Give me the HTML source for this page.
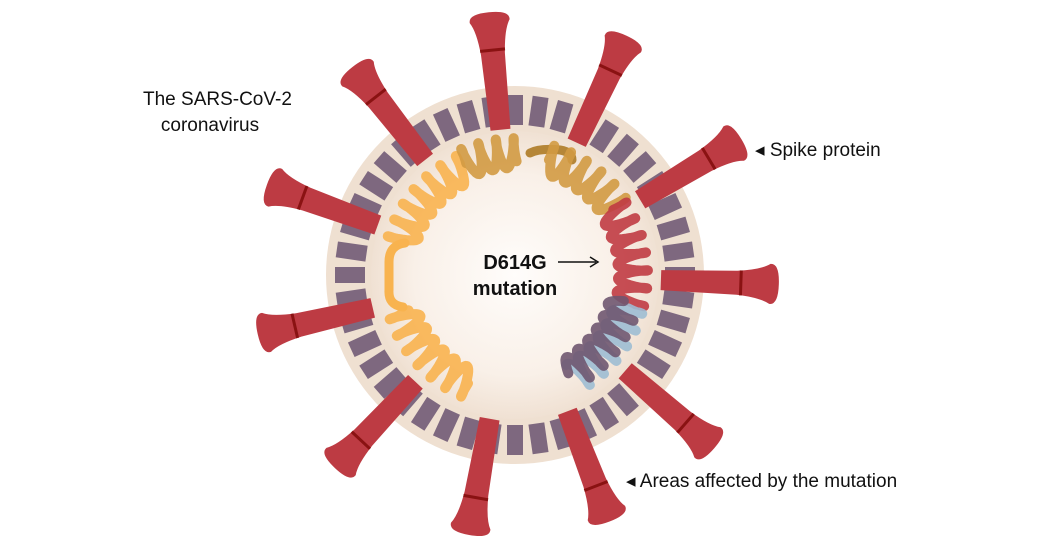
<!DOCTYPE html>
<html><head><meta charset="utf-8"><style>
body{margin:0;background:#fff;width:1050px;height:549px;overflow:hidden;position:relative;font-family:"Liberation Sans",Arial,sans-serif}
.t{position:absolute;color:#111;font-size:19px;white-space:nowrap}
</style></head><body>
<svg id="s" width="1050" height="549" style="position:absolute;left:0;top:0">
<defs><radialGradient id="g" cx="0.5" cy="0.5" r="0.5"><stop offset="0" stop-color="#fffdfb"/><stop offset="0.7" stop-color="#f9f0e8"/><stop offset="1" stop-color="#f0e1d3"/></radialGradient></defs>
<circle cx="515" cy="275" r="189" fill="#efe0d1"/>
<g id="rects"></g>
<circle cx="515" cy="275" r="144" fill="url(#g)"/>
<g id="spikes"></g>
<g id="rna" fill="none" stroke-linecap="round" stroke-linejoin="round"></g>
<line x1="558" y1="262" x2="596" y2="262" stroke="#111" stroke-width="1.5"/>
<path d="M590 257 L598 262 L590 267" fill="none" stroke="#111" stroke-width="1.5"/>
</svg>
<div class="t" style="left:143px;top:87px;text-align:center;width:134px;line-height:26px">The SARS-CoV-2<br>coronavirus</div>
<div class="t" style="left:755px;top:139px">◂ Spike protein</div>
<div class="t" style="left:626px;top:470px">◂ Areas affected by the mutation</div>
<div class="t" style="left:470px;top:250px;font-weight:bold;font-size:20px;text-align:center;width:90px;line-height:26px">D614G<br>mutation</div>
<script>
var NS="http://www.w3.org/2000/svg",cx=515,cy=275;
function el(n,a,p){var e=document.createElementNS(NS,n);for(var k in a)e.setAttribute(k,a[k]);p.appendChild(e);return e;}
var R=document.getElementById("rects");
for(var i=0;i<44;i++){var a=i*360/44;el("rect",{x:150,y:-8,width:30,height:16,fill:"#7e687f",transform:"translate(515 275) rotate("+a+")"},R);}
var S=document.getElementById("spikes");
[-95.7,-65,-31,2,41,69,100,133,167,200,232].forEach(function(a){
var g=el("g",{transform:"translate(515 275) rotate("+a+")"},S);
el("path",{d:"M146 -10 L222 -12 Q246 -14 255 -20 Q264 -21 264 0 Q264 21 255 20 Q246 14 222 12 L146 10 Z",fill:"#bd3b43"},g);
el("line",{x1:226,y1:-12.5,x2:226,y2:12.5,stroke:"#8a1212","stroke-width":3},g);
});
var G=document.getElementById("rna");
function coil(a0,a1,r,col,w,ph){var d="",n=Math.abs(a1-a0)*r*Math.PI/180,turns=n/16,steps=Math.ceil(turns*24);
for(var i=0;i<=steps;i++){var f=i/steps,phi=f*turns*2*Math.PI+(ph||0),s=f*n+3*Math.cos(phi),a=(a0+(a1-a0)*s/n)*Math.PI/180,rr=r+15*Math.sin(phi);
var x=cx+rr*Math.cos(a),y=cy+rr*Math.sin(a);d+=(i?"L":"M")+x.toFixed(1)+" "+y.toFixed(1);}
el("path",{d:d,stroke:col,"stroke-width":w||10,"stroke-opacity":0.9},G);}
coil(112,163,118,"#f8b34f");
el("path",{d:"M403 307 Q388 305 389 290 L389 262 Q389 245 405 243",stroke:"#f8b34f","stroke-width":9},G);
coil(195,245,118,"#f8b34f");
coil(245,272,122,"#d29a43");
el("path",{d:"M530 153 Q540 148 560 150 Q572 152 572 160",stroke:"#b58638","stroke-width":9},G);
coil(285,325,120,"#d29a43");
coil(325,375,118,"#c03b43");
coil(15,60,118,"#9dbdd3",10,0);
coil(15,60,112,"#6f5670",10,Math.PI);
</script>
</body></html>
